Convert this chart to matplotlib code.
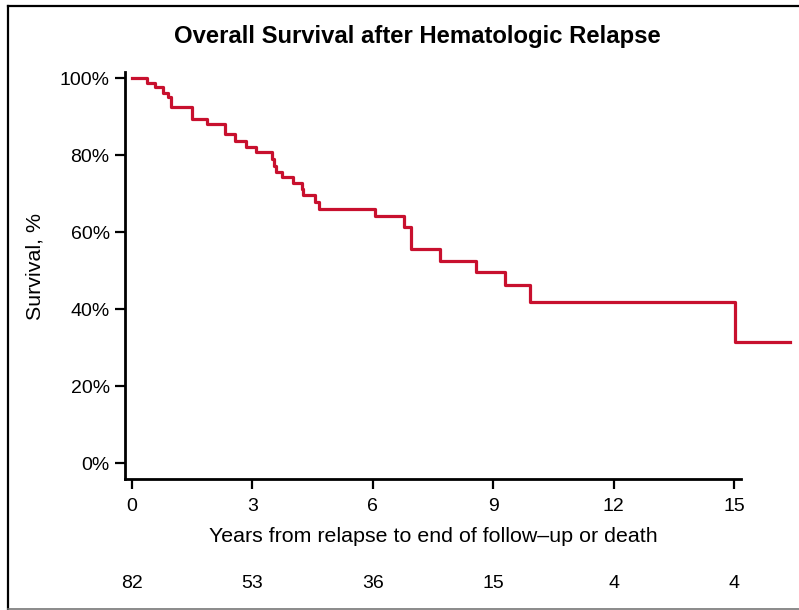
import matplotlib
matplotlib.use("Agg")
import matplotlib.pyplot as plt
from matplotlib.lines import Line2D

# Kaplan-Meier steps (years, survival %)
event_times = [0.37, 0.57, 0.78, 0.89, 0.96, 1.49, 1.86, 2.32, 2.57, 2.84,
               3.10, 3.48, 3.53, 3.60, 3.73, 4.00, 4.23, 4.27, 4.56, 4.66,
               6.05, 6.78, 6.94, 7.67, 8.56, 9.29, 9.92, 15.03]
surv_levels = [98.8, 97.6, 96.2, 95.0, 92.6, 89.5, 88.0, 85.5, 83.6, 82.1,
               80.7, 78.9, 77.3, 75.7, 74.3, 72.7, 71.2, 69.7, 67.8, 66.0,
               64.2, 61.4, 55.7, 52.6, 49.7, 46.2, 42.0, 31.4]
last_followup = 16.4

risk_times = [0, 3, 6, 9, 12, 15]
at_risk = [82, 53, 36, 15, 4, 4]

yticks = [0, 20, 40, 60, 80, 100]
ytick_labels = ["0%", "20%", "40%", "60%", "80%", "100%"]

RED = "#C8102E"
narrow = ["Liberation Sans Narrow", "Liberation Sans", "DejaVu Sans"]
plt.rcParams['font.family'] = ["Liberation Sans", "DejaVu Sans"]

W, H = 799, 610
fig = plt.figure(figsize=(W / 100, H / 100), dpi=100)
fig.patch.set_facecolor("white")

# axes placed in pixels: x 125..741, y 72..479
ax = fig.add_axes([125 / W, (H - 479) / H, (741 - 125) / W, (479 - 72) / H])
ax.set_xlim(-0.174, 15.175)
ax.set_ylim(-4.08, 101.6)

xs = [0] + event_times + [last_followup]
ys = [100] + surv_levels + [surv_levels[-1]]
ax.step(xs, ys, where='post', color=RED, lw=2.3, clip_on=False, zorder=3)

for side in ["top", "right"]:
    ax.spines[side].set_visible(False)
for side in ["left", "bottom"]:
    ax.spines[side].set_linewidth(2.0)

ax.set_xticks(risk_times)
ax.set_yticks(yticks)
ax.set_yticklabels(ytick_labels)
ax.tick_params(axis='both', length=7, width=1.6, labelsize=14, direction='out')
ax.tick_params(axis='x', pad=7)
ax.tick_params(axis='y', pad=4)

# number at risk under the axis
for t, n in zip(risk_times, at_risk):
    ax.text(t, (479 - 583) / 407, str(n), transform=ax.get_xaxis_transform(),
            ha='center', va='center', fontsize=14)

fig.text(433 / W, 1 - 536 / H, "Years from relapse to end of follow\u2013up or death",
         ha='center', va='center', fontsize=15.4, family=narrow)
fig.text(35 / W, 1 - 267 / H, "Survival, %", rotation=90,
         ha='center', va='center', fontsize=15.4, family=narrow)
fig.text(417 / W, 1 - 36 / H, "Overall Survival after Hematologic Relapse",
         ha='center', va='center', fontsize=17.2, fontweight='bold')

# frame around the figure (top, left, bottom)
fig.add_artist(Line2D([7.5 / W, 1], [1 - 6 / H, 1 - 6 / H], color='black', lw=1.6))
fig.add_artist(Line2D([7.5 / W, 7.5 / W], [1 - 6 / H, 1 - 609 / H], color='black', lw=1.6))
fig.add_artist(Line2D([7.5 / W, 1], [1 - 609 / H, 1 - 609 / H], color='#777777', lw=1.2))

fig.savefig("out.png", dpi=100)
